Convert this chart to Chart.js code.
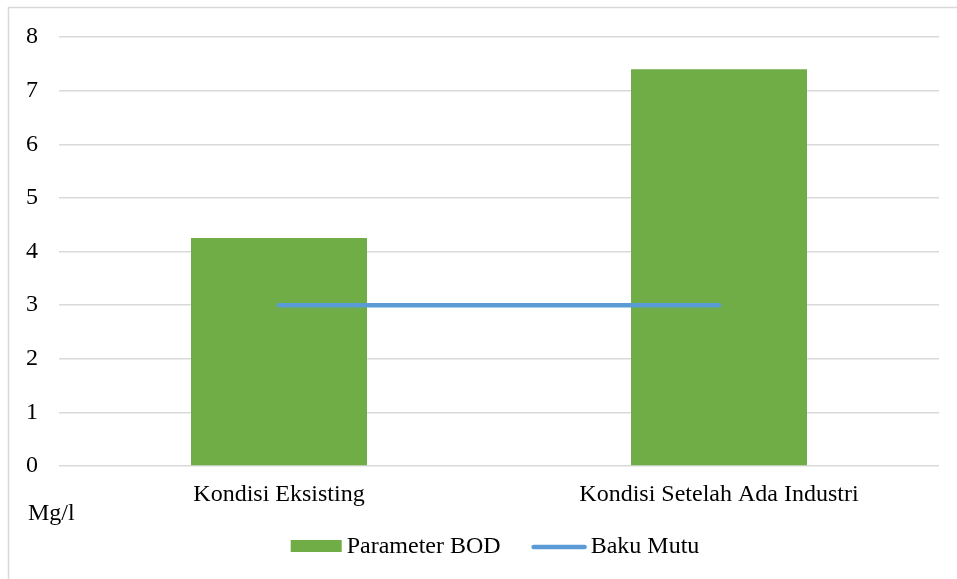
<!DOCTYPE html>
<html>
<head>
<meta charset="utf-8">
<title>Parameter BOD</title>
<script src="https://cdn.jsdelivr.net/npm/chart.js@4.4.1/dist/chart.umd.min.js"></script>
<style>
  html, body { margin: 0; padding: 0; background: #ffffff; }
  #wrap { width: 957px; height: 579px; position: relative; }
</style>
</head>
<body>
<div id="wrap"><canvas id="c" width="957" height="579"></canvas></div>
<script>
// Categories and measured values (mg/l)
const categories = ['Kondisi Eksisting', 'Kondisi Setelah Ada Industri'];
const bodValues = [4.25, 7.4];
const bakuMutuValues = [3, 3];
const yMin = 0;
const yMax = 8;
const yStep = 1;
const unitLabel = 'Mg/l';
const seriesNames = ['Parameter BOD', 'Baku Mutu'];

const GREEN = '#70AD47';
const BLUE = '#5B9BD5';
const GRID = '#D9D9D9';
const TEXT = '#000000';
const FONT = '"Liberation Serif", "Times New Roman", serif';
const FSIZE = 24;

// Frame, unit label and legend drawn on top of the chart
const decorations = {
  id: 'decorations',
  afterDraw(chart) {
    const ctx = chart.ctx;
    ctx.save();
    // outer frame (top and left edges)
    ctx.strokeStyle = GRID;
    ctx.lineWidth = 1.5;
    ctx.beginPath();
    ctx.moveTo(8.5, 579);
    ctx.lineTo(8.5, 7.5);
    ctx.lineTo(957, 7.5);
    ctx.stroke();

    ctx.font = FSIZE + 'px ' + FONT;
    ctx.fillStyle = TEXT;
    ctx.textBaseline = 'alphabetic';
    ctx.textAlign = 'left';
    ctx.fillText(unitLabel, 28, 520);

    // legend: bar series first, then the limit line
    const barDs = chart.data.datasets.find(d => d.type === 'bar');
    const lineDs = chart.data.datasets.find(d => d.type === 'line');
    const w1 = ctx.measureText(barDs.label).width;
    const w2 = ctx.measureText(lineDs.label).width;
    const total = 51 + 5 + w1 + 31 + 55 + 4 + w2;
    let x = 495 - total / 2;
    const baseline = 553;
    ctx.fillStyle = barDs.backgroundColor;
    ctx.fillRect(x, 540, 51, 12);
    x += 51 + 5;
    ctx.fillStyle = TEXT;
    ctx.fillText(barDs.label, x, baseline);
    x += w1 + 31;
    ctx.strokeStyle = lineDs.borderColor;
    ctx.lineWidth = 4.5;
    ctx.lineCap = 'round';
    ctx.beginPath();
    ctx.moveTo(x + 2, 547);
    ctx.lineTo(x + 53, 547);
    ctx.stroke();
    x += 55 + 4;
    ctx.fillText(lineDs.label, x, baseline);
    ctx.restore();
  }
};

new Chart(document.getElementById('c'), {
  data: {
    labels: categories,
    datasets: [
      {
        type: 'line',
        label: seriesNames[1],
        data: bakuMutuValues,
        borderColor: BLUE,
        backgroundColor: BLUE,
        borderWidth: 4.5,
        borderCapStyle: 'round',
        pointRadius: 0,
        pointHoverRadius: 0,
        fill: false,
        tension: 0,
        order: 0
      },
      {
        type: 'bar',
        label: seriesNames[0],
        data: bodValues,
        backgroundColor: GREEN,
        borderWidth: 0,
        barPercentage: 0.4,
        categoryPercentage: 1.0,
        order: 1
      }
    ]
  },
  options: {
    responsive: false,
    animation: false,
    devicePixelRatio: 1,
    layout: { padding: { left: 0, top: 37, right: 18, bottom: 0 } },
    plugins: {
      legend: { display: false },
      tooltip: { enabled: false },
      title: { display: false }
    },
    scales: {
      x: {
        type: 'category',
        offset: true,
        grid: { display: false, drawTicks: false },
        border: { display: false },
        ticks: {
          color: TEXT,
          font: { family: FONT, size: FSIZE },
          padding: 14,
          maxRotation: 0,
          autoSkip: false
        },
        afterFit(scale) { scale.height = 113; }
      },
      y: {
        type: 'linear',
        min: yMin,
        max: yMax,
        grid: { color: GRID, lineWidth: 1.5, drawTicks: false },
        border: { display: false },
        ticks: {
          stepSize: yStep,
          color: TEXT,
          font: { family: FONT, size: FSIZE },
          padding: 21
        },
        afterFit(scale) { scale.width = 59; }
      }
    }
  },
  plugins: [decorations]
});
</script>
</body>
</html>
